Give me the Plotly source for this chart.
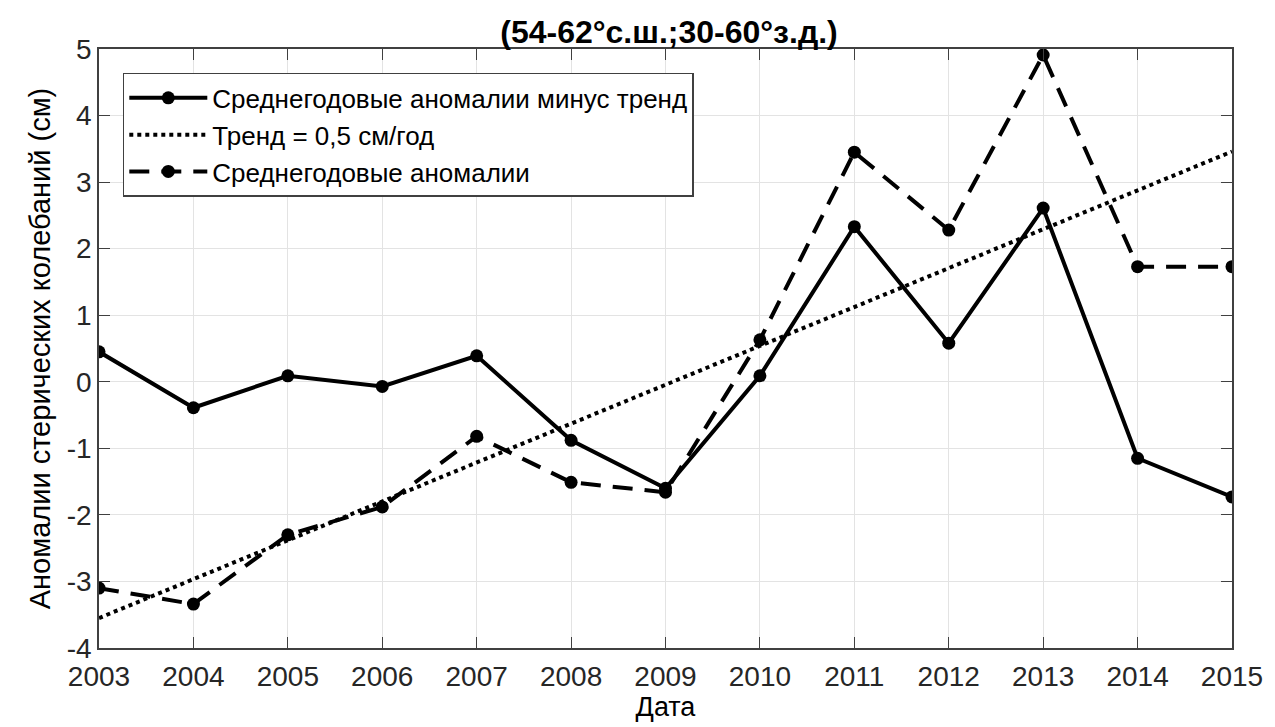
import plotly.graph_objects as go

years = list(range(2003, 2016))
detrended = [0.45, -0.39, 0.09, -0.07, 0.39, -0.88, -1.60, 0.09, 2.33, 0.58, 2.61, -1.15, -1.73]
annual = [-3.10, -3.34, -2.30, -1.88, -0.82, -1.51, -1.66, 0.63, 3.45, 2.28, 4.91, 1.73, 1.73]
trend_years = [2003, 2015]
trend_values = [-3.55, 3.46]
y_ticks = list(range(-4, 6))

FONT = "Liberation Sans, Arial, sans-serif"
INK = "#262626"

fig = go.Figure()
fig.add_trace(go.Scatter(
    x=years, y=detrended, mode="lines+markers",
    name="Среднегодовые аномалии минус тренд",
    line=dict(color="black", width=4),
    marker=dict(color="black", size=13),
))
fig.add_trace(go.Scatter(
    x=trend_years, y=trend_values, mode="lines",
    name="Тренд = 0,5 см/год",
    line=dict(color="black", width=4, dash="4px,4px"),
))
fig.add_trace(go.Scatter(
    x=years, y=annual, mode="lines+markers",
    name="Среднегодовые аномалии",
    line=dict(color="black", width=4, dash="20px,12px"),
    marker=dict(color="black", size=13),
))

axis_common = dict(
    showgrid=True, gridcolor="#e3e3e3", gridwidth=1,
    showline=True, linecolor="#404040", linewidth=1.5, mirror="ticks",
    ticks="inside", ticklen=11, tickcolor="#404040",
    tickfont=dict(family=FONT, size=28, color=INK),
    zeroline=False,
)

fig.update_layout(
    width=1275, height=727,
    margin=dict(l=99, r=33, t=49, b=79),
    paper_bgcolor="white", plot_bgcolor="white",
    title=dict(
        text="<b>(54-62°с.ш.;30-60°з.д.)</b>",
        x=0.5247, xanchor="center", y=0.956, yanchor="middle",
        font=dict(family=FONT, size=32, color="black"),
    ),
    xaxis=dict(
        range=[2003, 2015], tickmode="array", tickvals=years,
        ticktext=[str(y) for y in years], ticklabelstandoff=3,
        title=dict(text="Дата", font=dict(family=FONT, size=27, color="black"), standoff=0),
        **axis_common,
    ),
    yaxis=dict(
        range=[-4, 5], tickmode="array", tickvals=y_ticks,
        ticktext=[str(v) for v in y_ticks],
        title=dict(text="Аномалии стерических колебаний (см)",
                   font=dict(family=FONT, size=29, color="black"), standoff=8),
        **axis_common,
    ),
    legend=dict(
        x=0.021, y=0.96, xanchor="left", yanchor="top",
        bgcolor="white", bordercolor="#404040", borderwidth=1.5,
        font=dict(family=FONT, size=26, color="black"),
        tracegroupgap=0, itemwidth=78,
    ),
    showlegend=True,
)

fig.write_html("out.html")
